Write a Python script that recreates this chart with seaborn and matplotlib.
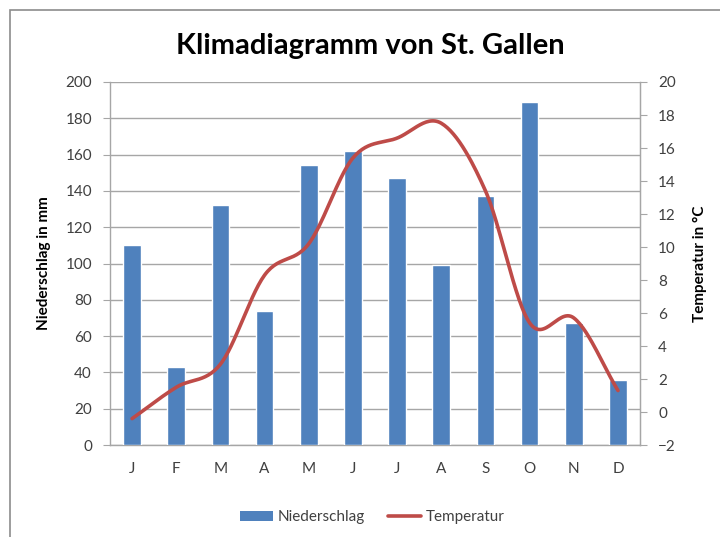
import numpy as np
import pandas as pd
import matplotlib
matplotlib.use('Agg')
import matplotlib.pyplot as plt
import seaborn as sns
from matplotlib.patches import Patch, Rectangle
from matplotlib.lines import Line2D

# data
months = ['Jan', 'Feb', 'Mar', 'Apr', 'Mai', 'Jun', 'Jul', 'Aug', 'Sep', 'Okt', 'Nov', 'Dez']
month_labels = ['J', 'F', 'M', 'A', 'M', 'J', 'J', 'A', 'S', 'O', 'N', 'D']
niederschlag = [110, 43, 132, 74, 154, 162, 147, 99, 137, 189, 67, 36]
temperatur = [-0.4, 1.5, 2.9, 8.3, 10.2, 15.4, 16.6, 17.5, 13.4, 5.4, 5.7, 1.3]

sns.set_style('white')
plt.rcParams['font.family'] = ['Lato', 'DejaVu Sans']

bar_col = '#4F81BD'
line_col = '#BE4B48'
grid_col = '#A6A6A6'
text_col = '#404040'

fig = plt.figure(figsize=(7.2, 5.37), dpi=100)
ax = fig.add_axes([0.1528, 0.1713, 0.7362, 0.676])

# outer chart border
fig.patches.append(Rectangle((10 / 720, -0.05), 1.0, 1 - 10 / 537 + 0.05, transform=fig.transFigure,
                             fill=False, edgecolor='#8C8C8C', linewidth=1.2))

df = pd.DataFrame({'Monat': months, 'Niederschlag': niederschlag})
sns.barplot(data=df, x='Monat', y='Niederschlag', order=months, color=bar_col,
            width=0.4, saturation=1, ax=ax, zorder=3)
ax.set_ylim(0, 200)
ax.set_xlim(-0.5, 11.5)
ax.set_yticks(range(0, 201, 20))
ax.set_xticks(range(12))
ax.set_xticklabels(month_labels)
ax.set_xlabel('')
ax.set_ylabel('Niederschlag in mm', fontsize=11, fontweight='bold', color='black', labelpad=10)
ax.yaxis.grid(True, color=grid_col, linewidth=1, zorder=0)
ax.set_axisbelow(True)
ax.tick_params(axis='x', length=0, pad=12, labelsize=11, labelcolor=text_col)
ax.tick_params(axis='y', direction='out', length=5, color=grid_col, pad=8, labelsize=11, labelcolor=text_col)
ax.yaxis.set_ticks_position('left')
# category boundary ticks on the x axis
ax.set_xticks(np.arange(-0.5, 12, 1), minor=True)
ax.tick_params(axis='x', which='minor', direction='out', length=5, color=grid_col)
ax.spines['top'].set_visible(False)
for s in ['left', 'bottom', 'right']:
    ax.spines[s].set_color(grid_col)
    ax.spines[s].set_linewidth(1)

# smoothed temperature line (Catmull-Rom through the monthly values)
xs = np.arange(len(temperatur), dtype=float)
ys = np.array(temperatur, dtype=float)
px = np.concatenate([[2 * xs[0] - xs[1]], xs, [2 * xs[-1] - xs[-2]]])
py = np.concatenate([[2 * ys[0] - ys[1]], ys, [2 * ys[-1] - ys[-2]]])
sx, sy = [], []
t = np.linspace(0, 1, 30)
for i in range(1, len(px) - 2):
    for arr, out in ((px, sx), (py, sy)):
        p0, p1, p2, p3 = arr[i - 1], arr[i], arr[i + 1], arr[i + 2]
        out.extend(0.5 * (2 * p1 + (-p0 + p2) * t + (2 * p0 - 5 * p1 + 4 * p2 - p3) * t ** 2
                          + (-p0 + 3 * p1 - 3 * p2 + p3) * t ** 3))

ax2 = ax.twinx()
sns.lineplot(x=sx, y=sy, color=line_col, linewidth=2.6, ax=ax2, sort=False)
ax2.set_ylim(-2, 20)
ax2.set_yticks(range(-2, 21, 2))
ax2.set_ylabel('Temperatur in °C', fontsize=11, fontweight='bold', color='black', labelpad=12)
ax2.tick_params(axis='y', direction='out', length=5, color=grid_col, pad=8, labelsize=11, labelcolor=text_col)
for s in ['top', 'left', 'bottom']:
    ax2.spines[s].set_visible(False)
ax2.spines['right'].set_color(grid_col)

fig.text(0.514, 0.915, 'Klimadiagramm von St. Gallen', ha='center', va='center',
         fontsize=21, fontweight='bold', color='black')

handles = [Patch(facecolor=bar_col, edgecolor='none'),
           Line2D([0], [0], color=line_col, linewidth=2.6)]
fig.legend(handles, ['Niederschlag', 'Temperatur'], loc='center', bbox_to_anchor=(0.517, 0.037),
           ncol=2, frameon=False, fontsize=11, handlelength=2.2, handleheight=0.6,
           handletextpad=0.3, columnspacing=1.5, labelcolor=text_col)

fig.savefig('out.png', dpi=100)
